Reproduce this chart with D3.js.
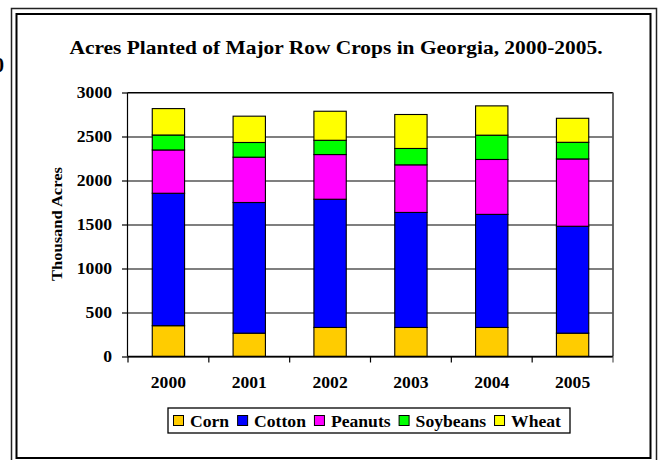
<!DOCTYPE html>
<html><head><meta charset="utf-8">
<script src="https://cdn.jsdelivr.net/npm/d3@7/dist/d3.min.js"></script>
<style>
html,body{margin:0;padding:0;background:#fff;}
svg{display:block;font-family:"Liberation Serif","Times New Roman",serif;font-weight:bold;}
</style></head>
<body>
<svg id="c" width="662" height="460"></svg>
<script>
const years = ["2000","2001","2002","2003","2004","2005"];
const seriesNames = ["Corn","Cotton","Peanuts","Soybeans","Wheat"];
const corn     = [350, 265, 330, 330, 330, 265];
const cotton   = [1505, 1485, 1457, 1307, 1285, 1215];
const peanuts  = [492, 515, 508, 541, 624, 765];
const soybeans = [170, 167, 162, 186, 276, 189];
const wheat    = [300, 299, 330, 386, 333, 273];
const yTicks = [0,500,1000,1500,2000,2500,3000];
const colors = ["#FFCC00","#0000FF","#FF00FF","#00FF00","#FFFF00"];
const titleText = "Acres Planted of Major Row Crops in Georgia, 2000-2005.";
const yTitle = "Thousand Acres";

const seriesValues = [corn, cotton, peanuts, soybeans, wheat];
const table = years.map((yr,i)=>{
  const row = {year:yr};
  seriesNames.forEach((s,j)=>row[s]=seriesValues[j][i]);
  return row;
});

const svg = d3.select("#c");
const STRETCH = 1.1;
function stretch(sel){
  sel.each(function(){
    const w = this.getComputedTextLength();
    d3.select(this).attr("textLength", w*STRETCH).attr("lengthAdjust","spacingAndGlyphs");
  });
}

// outer frame
svg.append("rect").attr("x",11.5).attr("y",8.5).attr("width",645).attr("height",470)
  .attr("fill","none").attr("stroke","#222").attr("stroke-width",1.5);
svg.append("rect").attr("x",16.5).attr("y",14).attr("width",634).attr("height",444)
  .attr("fill","#fff").attr("stroke","#000").attr("stroke-width",2);

// cut-off glyph at the left edge
svg.append("text").attr("x",4).attr("y",72).attr("text-anchor","end")
  .attr("font-size",20).text("0");

const pL=128, pR=613, pT=92.5, pB=356.5;
const x = d3.scaleBand().domain(years).range([pL,pR]).padding(0);
const y = d3.scaleLinear().domain([0,3000]).range([pB,pT]);

// title
svg.append("text").attr("x",336).attr("y",54).attr("text-anchor","middle")
  .attr("font-size",19).attr("textLength",533).attr("lengthAdjust","spacingAndGlyphs")
  .text(titleText);

// gridlines
svg.append("g").attr("transform",`translate(${pL},0)`)
  .call(d3.axisLeft(y).tickValues(yTicks).tickSize(-(pR-pL)).tickFormat(""))
  .call(g=>g.select(".domain").remove())
  .call(g=>g.selectAll("line").attr("stroke","#000").attr("stroke-width",1.2));

// plot border top/right
svg.append("line").attr("x1",pL).attr("x2",pR).attr("y1",pT).attr("y2",pT)
  .attr("stroke","#000").attr("stroke-width",1.2);
svg.append("line").attr("x1",pR).attr("x2",pR).attr("y1",pT).attr("y2",pB)
  .attr("stroke","#555").attr("stroke-width",1.8);

// bars
const stack = d3.stack().keys(seriesNames)(table);
const bw = x.bandwidth()*0.4;
svg.append("g").selectAll("g").data(stack).join("g")
  .attr("fill",(d,i)=>colors[i])
  .selectAll("rect").data(d=>d).join("rect")
  .attr("x",d=>x(d.data.year)+x.bandwidth()/2-bw/2)
  .attr("width",bw)
  .attr("y",d=>y(d[1]))
  .attr("height",d=>y(d[0])-y(d[1]))
  .attr("stroke","#000").attr("stroke-width",1.1);

// y axis
const ya = svg.append("g").attr("transform",`translate(${pL},0)`)
  .call(d3.axisLeft(y).tickValues(yTicks).tickSize(6).tickPadding(10).tickFormat(d3.format("d")));
ya.select(".domain").attr("stroke","#000").attr("stroke-width",1.2).attr("d",`M-0.5,${pB}V${pT}`);
ya.selectAll("line").attr("stroke","#000").attr("stroke-width",1.2);
ya.selectAll("text").attr("font-size",16).attr("font-family","Liberation Serif").attr("font-weight","bold")
  .attr("fill","#000").attr("dy","0.34em").call(stretch);

// x axis
const xa = svg.append("g").attr("transform",`translate(0,${pB})`)
  .call(d3.axisBottom(x).tickSize(0).tickPadding(0));
xa.select(".domain").remove();
xa.selectAll("text").attr("font-size",16).attr("font-family","Liberation Serif").attr("font-weight","bold")
  .attr("fill","#000").attr("y",31.5).attr("dy",0).call(stretch);
svg.append("line").attr("x1",pL).attr("x2",pR).attr("y1",pB).attr("y2",pB)
  .attr("stroke","#000").attr("stroke-width",1.4);
const bounds = years.map(d=>x(d)).concat([pR]);
svg.append("g").selectAll("line").data(bounds).join("line")
  .attr("x1",d=>d).attr("x2",d=>d).attr("y1",pB).attr("y2",pB+6)
  .attr("stroke",(d,i)=>i===bounds.length-1?"#555":"#000").attr("stroke-width",1.2);

// y title
svg.append("text").attr("transform","translate(62,224) rotate(-90)")
  .attr("text-anchor","middle").attr("font-size",15).text(yTitle).call(stretch);

// legend
const lg = svg.append("g");
lg.append("rect").attr("x",168).attr("y",408).attr("width",402).attr("height",25)
  .attr("fill","#fff").attr("stroke","#000").attr("stroke-width",1.3);
let cx = 173.5;
seriesNames.forEach((s,i)=>{
  lg.append("rect").attr("x",cx).attr("y",415.5).attr("width",10).attr("height",10)
    .attr("fill",colors[i]).attr("stroke","#000").attr("stroke-width",1);
  const t = lg.append("text").attr("x",cx+16.5).attr("y",427).attr("font-size",16).text(s);
  stretch(t);
  cx += 16.5 + (+t.attr("textLength")) + 8.5;
});
</script>
</body></html>
